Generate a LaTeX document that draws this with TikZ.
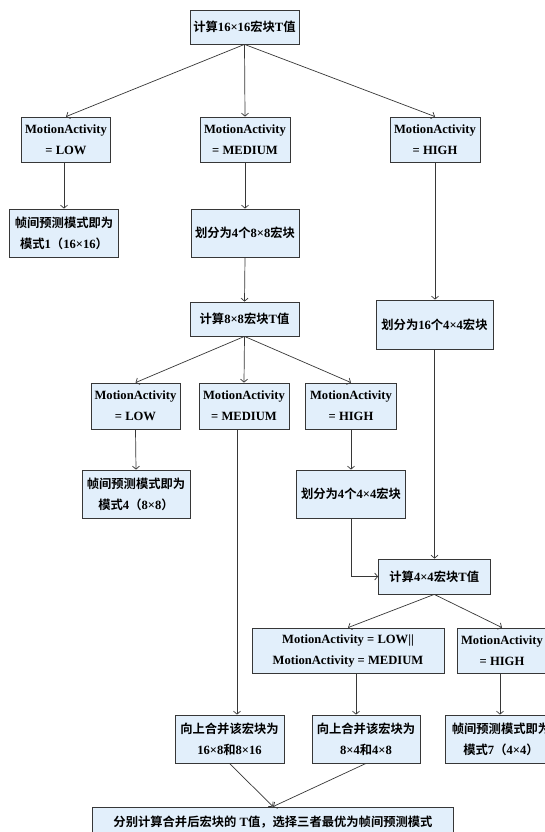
\documentclass[tikz,border=0pt]{standalone}
\usepackage{fontspec}
\setmainfont{Liberation Serif}
\newfontfamily\cjkf{Noto Sans CJK SC}[BoldFont={Noto Sans CJK SC Bold}]
\usetikzlibrary{arrows.meta}
\newcommand\zhc[1]{{\cjkf\fontsize{12.3}{21}\selectfont #1}}
\definecolor{boxc}{RGB}{226,239,251}
\definecolor{linec}{RGB}{55,55,55}
\tikzset{
  box/.style={draw=linec, fill=boxc, line width=0.8pt, inner sep=0pt, align=center,
    font=\bfseries\fontsize{12.6}{21}\selectfont},
  arr/.style={draw=linec, line width=0.7pt, -{Straight Barb[length=3pt,width=7pt]}}
}
\begin{document}
\begin{tikzpicture}[x=1pt,y=-1pt]
\useasboundingbox (0,0) rectangle (545,832);
\fill[white] (0,0) rectangle (545,832);
\clip (0,0) rectangle (545,832);
% row 0
\node[box, minimum width=109, minimum height=34] (top) at (244.5,27) {\zhc{计算}16×16\zhc{宏块}T\zhc{值}};
% row 1
\node[box, minimum width=89.5, minimum height=45] (lo1) at (66,139.5) {MotionActivity\\= LOW};
\node[box, minimum width=90, minimum height=45] (me1) at (245,139.5) {MotionActivity\\= MEDIUM};
\node[box, minimum width=90, minimum height=45] (hi1) at (435,139.5) {MotionActivity\\= HIGH};
% row 2
\node[box, minimum width=108.6, minimum height=48] (m1) at (64,233) {\zhc{帧间预测模式即为}\\\zhc{模式}1\zhc{（}16×16\zhc{）}};
\node[box, minimum width=108, minimum height=48] (s8) at (245,233) {\zhc{划分为}4\zhc{个}8×8\zhc{宏块}};
% row 3
\node[box, minimum width=109, minimum height=34] (t8) at (244.5,319) {\zhc{计算}8×8\zhc{宏块}T\zhc{值}};
\node[box, minimum width=117, minimum height=49] (s16) at (434.5,324.5) {\zhc{划分为}16\zhc{个}4×4\zhc{宏块}};
% row 4
\node[box, minimum width=89, minimum height=46] (lo2) at (135.5,406) {MotionActivity\\= LOW};
\node[box, minimum width=90, minimum height=46] (me2) at (244,406) {MotionActivity\\= MEDIUM};
\node[box, minimum width=91.5, minimum height=46] (hi2) at (351,406) {MotionActivity\\= HIGH};
% row 5
\node[box, minimum width=108, minimum height=48] (m4) at (136,494) {\zhc{帧间预测模式即为}\\\zhc{模式}4\zhc{（}8×8\zhc{）}};
\node[box, minimum width=108.6, minimum height=48] (s4) at (351,494) {\zhc{划分为}4\zhc{个}4×4\zhc{宏块}};
% row 6
\node[box, minimum width=111.5, minimum height=35] (t4) at (434.25,576.5) {\zhc{计算}4×4\zhc{宏块}T\zhc{值}};
% row 7
\node[box, minimum width=192, minimum height=45] (lm3) at (348,650.5) {MotionActivity = LOW||\\MotionActivity = MEDIUM};
\node[box, minimum width=90, minimum height=45] (hi3) at (502,650.5) {MotionActivity\\= HIGH};
% row 8
\node[box, minimum width=109, minimum height=48] (u16) at (229.5,739) {\zhc{向上合并该宏块为}\\16×8\zhc{和}8×16};
\node[box, minimum width=108, minimum height=48] (u8) at (366,739) {\zhc{向上合并该宏块为}\\8×4\zhc{和}4×8};
\node[box, minimum width=112, minimum height=48] (m7) at (501,739) {\zhc{帧间预测模式即为}\\\zhc{模式}7\zhc{（}4×4\zhc{）}};
% bottom
\node[box, minimum width=361, minimum height=30] (bot) at (273,822) {\zhc{分别计算合并后宏块的} T\zhc{值，选择三者最优为帧间预测模式}};
% connectors
\draw[arr] (top.south) -- (lo1.north);
\draw[arr] (top.south) -- (me1.north);
\draw[arr] (top.south) -- (hi1.north);
\draw[arr] ([xshift=-2pt]lo1.south) -- (m1.north);
\draw[arr] (me1.south) -- (s8.north);
\draw[arr] (s8.south) -- (t8.north);
\draw[arr] (hi1.south) -- (hi1.south |- s16.north);
\draw[arr] (t8.south) -- (lo2.north);
\draw[arr] (t8.south) -- (me2.north);
\draw[arr] (t8.south) -- (hi2.north);
\draw[arr] (lo2.south) -- (m4.north);
\draw[arr] (hi2.south) -- (s4.north);
\draw[arr] (s16.south) -- (s16.south |- t4.north);
\draw[arr] (s4.south) |- (t4.west);
\draw[arr] (t4.south) -- (lm3.north);
\draw[arr] (t4.south) -- (hi3.north);
\draw[arr] ([xshift=-7pt]me2.south) -- ([xshift=7.5pt]u16.north);
\draw[arr] ([xshift=8pt]lm3.south) -- ([xshift=8pt]lm3.south |- u8.north);
\draw[arr] ([xshift=-2pt]hi3.south) -- ([xshift=-2pt]hi3.south |- m7.north);
\draw[arr] (u16.south) -- (bot.north);
\draw[arr] (u8.south) -- (bot.north);
\end{tikzpicture}
\end{document}
